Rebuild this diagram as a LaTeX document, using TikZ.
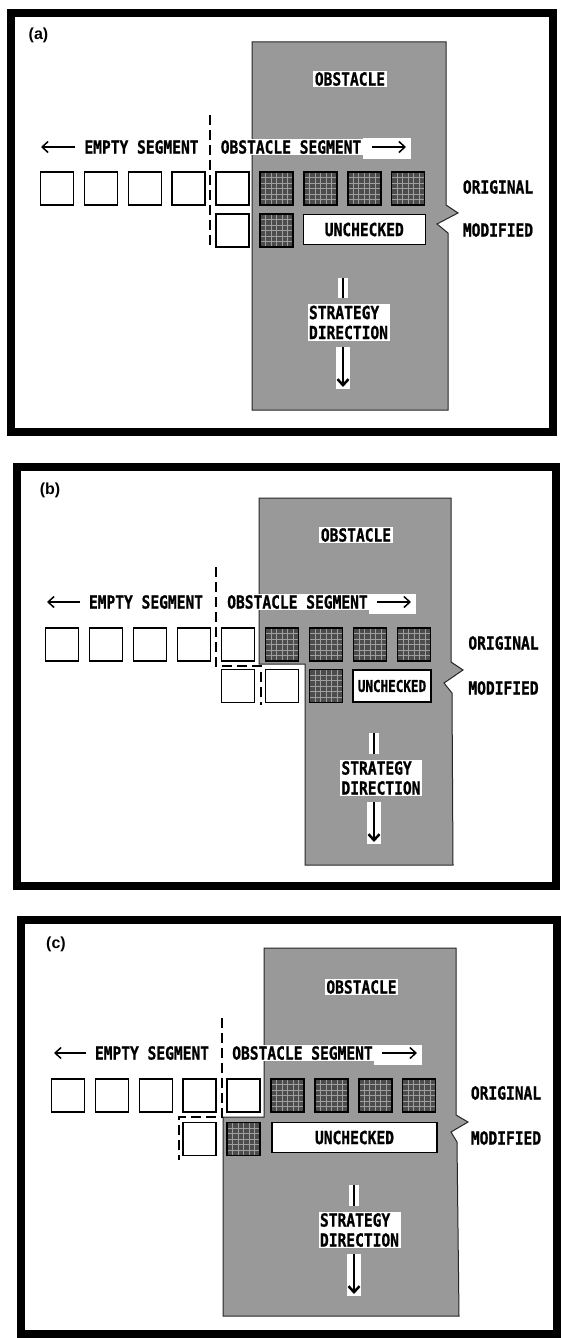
\documentclass[tikz,border=0pt]{standalone}
\usepackage{graphicx}
\usepackage{fontspec}
\setmainfont{Liberation Sans}
\newfontfamily\lblfamily[BoldFeatures={FakeBold=1.2}]{DejaVu Sans Mono}
\usetikzlibrary{arrows.meta}
\newcommand\lblfont{\lblfamily\bfseries\fontsize{18}{20}\selectfont}
\newcommand\lbltxt[1]{\scalebox{0.81}[1]{#1}}
\newcommand\smalltxt[1]{\scalebox{0.70}[0.9]{#1}}
\tikzset{
  frame/.style={draw=black, line width=8pt},
  obst/.style={fill=black!40, draw=black!85, line width=1pt},
  wsq/.style={draw=black, line width=1.5pt, fill=white, minimum width=33pt, minimum height=33pt, inner sep=0pt},
  dsq/.style={wsq, fill=black!70, path picture={\draw[black!38, line width=0.8pt, step=5.5pt] (path picture bounding box.south west) grid (path picture bounding box.north east);}},
  unck/.style={draw=black, line width=1.5pt, fill=white, minimum height=30pt, inner sep=0pt, font=\lblfont},
  lbl/.style={font=\lblfont, inner sep=1.5pt},
  wlbl/.style={lbl, fill=white},
  arr/.style={line width=1.5pt, -{Straight Barb[length=6pt,width=11pt]}},
  sarr/.style={line width=2.5pt, -{Straight Barb[length=6pt,width=11pt]}},
  shaft/.style={line width=2.5pt},
  dsh/.style={line width=2pt, dash pattern=on 10pt off 5pt},
  panlbl/.style={font=\fontsize{16}{18}\selectfont\bfseries, inner sep=0pt},
}
\begin{document}
\begin{tikzpicture}[x=1pt,y=-1pt]
\useasboundingbox (0,0) rectangle (561,1338);
\fill[white] (0,0) rectangle (561,1338);

%================ PANEL (a) =================
\draw[frame] (11,13) rectangle (553,432);
\node[panlbl] (aTag) at (38.5,35) {(a)};
\path[obst] (252,42) -- (446,42) -- (446,205) -- (458,213) -- (437,224) -- (448,233) -- (448,410) -- (252,410) -- cycle;
\node[wlbl] (aObs) at (350,79) {\lbltxt{OBSTACLE}};
\coordinate (aD1) at (210,115); \coordinate (aD2) at (210,248);
\draw[dsh] (aD1) -- (aD2);
\node[lbl] (aE) at (141.5,147) {\lbltxt{EMPTY SEGMENT}};
\coordinate (aEa) at (75,147); \coordinate (aEb) at (41,147);
\draw[arr] (aEa) -- (aEb);
\node[wlbl] (aO) at (291,147) {\lbltxt{OBSTACLE SEGMENT}};
\fill[white] (aO.north east) rectangle (411,158.5);
\coordinate (aOa) at (372,147); \coordinate (aOb) at (406,147);
\draw[arr] (aOa) -- (aOb);
\foreach \i in {0,...,4} \node[wsq] (a\i) at ({57+43.9*\i},188.5) {};
\foreach \i in {5,...,8} \node[dsq] (a\i) at ({57+43.9*\i},188.5) {};
\node[wsq] (aw2) at ({57+43.9*4},230.5) {};
\node[dsq] (ad2) at ({57+43.9*5},230.5) {};
\node[unck, minimum width=122pt] (aU) at (364.3,229.5) {\lbltxt{UNCHECKED}};
\node[lbl] (aOrig) at (498,187) {\lbltxt{ORIGINAL}};
\node[lbl] (aMod) at (498,230) {\lbltxt{MODIFIED}};
\node[wlbl, align=left] (aS) at (348.5,322.5) {\lbltxt{STRATEGY}\\\lbltxt{DIRECTION}};
\coordinate (aS1) at (343,278); \coordinate (aS2) at (343,298);
\fill[white] (338,278) rectangle (348,298);
\draw[shaft] (aS1) -- (aS2);
\coordinate (aS3) at (343,347); \coordinate (aS4) at (343,387);
\fill[white] (336,347) rectangle (350,389);
\draw[sarr] (aS3) -- (aS4);

%================ PANEL (b) =================
\draw[frame] (17,467) rectangle (556,886);
\node[panlbl] (bTag) at (50,490) {(b)};
\path[obst] (259,498) -- (451,498) -- (451,662) -- (463,670) -- (444,683) -- (452,693) -- (453,865) -- (305,865) -- (305,664) -- (259,664) -- cycle;
\node[wlbl] (bObs) at (356,535) {\lbltxt{OBSTACLE}};
\coordinate (bD1) at (216,567); \coordinate (bD2) at (216,666);
\coordinate (bD3) at (261,666); \coordinate (bD4) at (261,705);
\draw[dsh] (bD1) -- (bD2) -- (bD3) -- (bD4);
\node[lbl] (bE) at (146,602) {\lbltxt{EMPTY SEGMENT}};
\coordinate (bEa) at (80,602); \coordinate (bEb) at (47,602);
\draw[arr] (bEa) -- (bEb);
\node[wlbl] (bO) at (297.5,602) {\lbltxt{OBSTACLE SEGMENT}};
\fill[white] (bO.north east) rectangle (416,613.5);
\coordinate (bOa) at (377,602); \coordinate (bOb) at (411,602);
\draw[arr] (bOa) -- (bOb);
\foreach \i in {0,...,4} \node[wsq] (b\i) at ({62+44*\i},644.5) {};
\foreach \i in {5,...,8} \node[dsq] (b\i) at ({62+44*\i},644.5) {};
\node[wsq] (bw1) at (238,686) {};
\node[wsq] (bw2) at (282,686) {};
\node[dsq] (bd2) at (326,686) {};
\node[unck, minimum width=78pt, minimum height=32pt] (bU) at (392,686) {\smalltxt{UNCHECKED}};
\node[lbl] (bOrig) at (503.5,643) {\lbltxt{ORIGINAL}};
\node[lbl] (bMod) at (503.5,688) {\lbltxt{MODIFIED}};
\node[wlbl, align=left] (bS) at (381,778) {\lbltxt{STRATEGY}\\\lbltxt{DIRECTION}};
\coordinate (bS1) at (374,733); \coordinate (bS2) at (374,754);
\fill[white] (369,733) rectangle (379,754);
\draw[shaft] (bS1) -- (bS2);
\coordinate (bS3) at (374,802); \coordinate (bS4) at (374,842);
\fill[white] (367,802) rectangle (381,844);
\draw[sarr] (bS3) -- (bS4);

%================ PANEL (c) =================
\draw[frame] (21,920) rectangle (557,1334);
\node[panlbl] (cTag) at (56,944) {(c)};
\path[obst] (264,948) -- (456,948) -- (456,1115) -- (468,1122) -- (451,1132) -- (457,1142) -- (459,1316) -- (223,1316) -- (223,1117) -- (264,1117) -- cycle;
\node[wlbl] (cObs) at (361.5,987) {\lbltxt{OBSTACLE}};
\coordinate (cD1) at (222,1018); \coordinate (cD2) at (222,1117);
\coordinate (cD3) at (179,1117); \coordinate (cD4) at (179,1160);
\draw[dsh] (cD1) -- (cD2) -- (cD3) -- (cD4);
\node[lbl] (cE) at (152,1053) {\lbltxt{EMPTY SEGMENT}};
\coordinate (cEa) at (86,1053); \coordinate (cEb) at (54,1053);
\draw[arr] (cEa) -- (cEb);
\node[wlbl] (cO) at (302.5,1053) {\lbltxt{OBSTACLE SEGMENT}};
\fill[white] (cO.north east) rectangle (422,1064.5);
\coordinate (cOa) at (382,1053); \coordinate (cOb) at (417,1053);
\draw[arr] (cOa) -- (cOb);
\foreach \i in {0,...,4} \node[wsq] (c\i) at ({68+43.9*\i},1095.5) {};
\foreach \i in {5,...,8} \node[dsq] (c\i) at ({68+43.9*\i},1095.5) {};
\node[wsq] (cw1) at (199.7,1139) {};
\node[dsq] (cd1) at (243.6,1139) {};
\node[unck, minimum width=165pt] (cU) at (354.5,1137.5) {\lbltxt{UNCHECKED}};
\node[lbl] (cOrig) at (506,1093) {\lbltxt{ORIGINAL}};
\node[lbl] (cMod) at (506,1138) {\lbltxt{MODIFIED}};
\node[wlbl, align=left] (cS) at (359.5,1230) {\lbltxt{STRATEGY}\\\lbltxt{DIRECTION}};
\coordinate (cS1) at (354,1185); \coordinate (cS2) at (354,1206);
\fill[white] (349,1185) rectangle (359,1206);
\draw[shaft] (cS1) -- (cS2);
\coordinate (cS3) at (354,1254); \coordinate (cS4) at (354,1294);
\fill[white] (347,1254) rectangle (361,1296);
\draw[sarr] (cS3) -- (cS4);
\end{tikzpicture}
\end{document}
